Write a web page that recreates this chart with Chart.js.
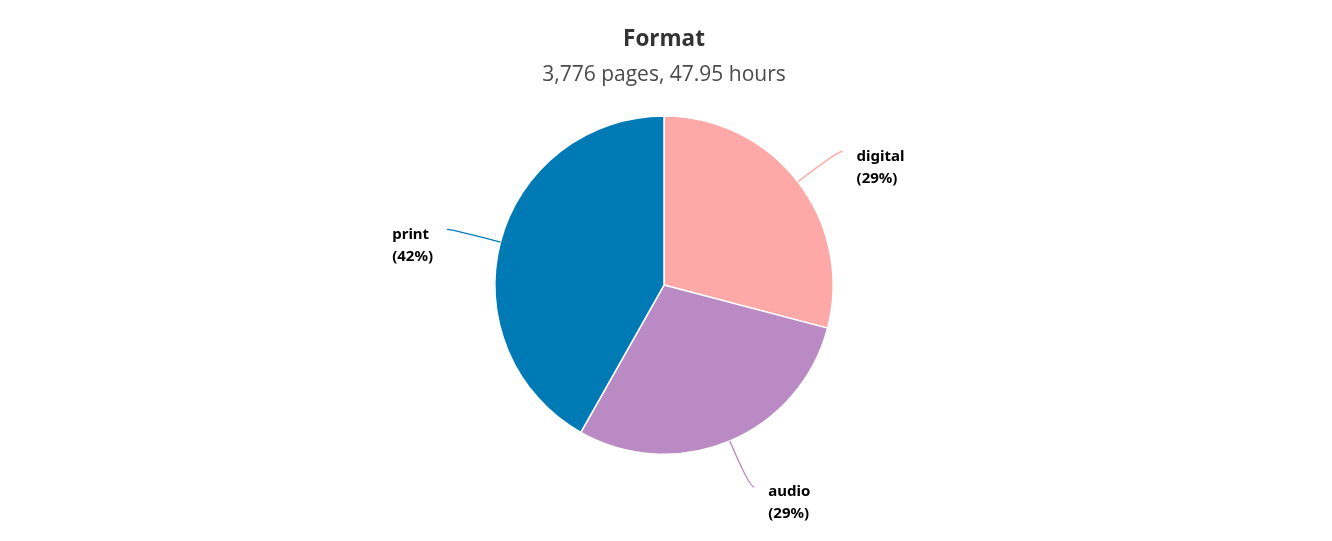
<!DOCTYPE html>
<html>
<head>
<meta charset="utf-8">
<script src="https://cdn.jsdelivr.net/npm/chart.js@4.4.0/dist/chart.umd.min.js"></script>
<style>
  html, body { margin: 0; padding: 0; background: #fff; }
  #wrap { width: 1332px; height: 541px; }
</style>
</head>
<body>
<div id="wrap"><canvas id="pie"></canvas></div>
<script>
// ── Chart data ──
const formats = ['digital', 'audio', 'print'];
const hours = [13.95, 13.95, 20.05];
const COLORS = ['#ffa8a8', '#b98ac3', '#007ab5'];
const titleText = 'Format';
const subtitleText = '3,776 pages, 47.95 hours';

// ── Outside labels with soft connectors ──
const outsideLabels = {
  id: 'outsideLabels',
  afterDatasetsDraw(chart) {
    const ctx = chart.ctx;
    const meta = chart.getDatasetMeta(0);
    const data = chart.data.datasets[0].data;
    const total = data.reduce((s, v) => s + v, 0);
    meta.data.forEach((arc, i) => {
      const { x, y, startAngle, endAngle, outerRadius } = arc.getProps(['x', 'y', 'startAngle', 'endAngle', 'outerRadius'], true);
      const mid = (startAngle + endAngle) / 2;
      const cos = Math.cos(mid), sin = Math.sin(mid);
      const right = cos >= 0;
      const edge = { x: x + cos * outerRadius, y: y + sin * outerRadius };
      const bend = { x: x + cos * (outerRadius + 50), y: y + sin * (outerRadius + 50) };
      const end = { x: bend.x + (right ? 5 : -5), y: bend.y };

      ctx.save();
      ctx.strokeStyle = COLORS[i];
      ctx.lineWidth = 1.4;
      ctx.beginPath();
      ctx.moveTo(edge.x, edge.y);
      ctx.quadraticCurveTo(bend.x, bend.y, end.x, end.y);
      ctx.stroke();

      const pct = Math.round(data[i] / total * 100) + '%';
      const lines = [chart.data.labels[i], '(' + pct + ')'];
      ctx.font = 'bold 15px "Noto Sans"';
      ctx.fillStyle = '#000';
      ctx.textBaseline = 'middle';
      ctx.textAlign = 'left';
      const w = Math.max(...lines.map(l => ctx.measureText(l).width));
      const tx = right ? end.x + 14 : end.x - 14 - w;
      lines.forEach((l, k) => ctx.fillText(l, tx, end.y + 5 + k * 22));
      ctx.restore();
    });
  }
};

new Chart(document.getElementById('pie'), {
  type: 'pie',
  data: {
    labels: formats,
    datasets: [{
      data: hours,
      backgroundColor: COLORS,
      borderColor: '#fff',
      borderWidth: 1.5,
      hoverOffset: 0
    }]
  },
  options: {
    responsive: true,
    maintainAspectRatio: false,
    animation: false,
    layout: { padding: { top: 0, bottom: 86, left: 0, right: 4 } },
    plugins: {
      legend: { display: false },
      tooltip: { enabled: false },
      title: {
        display: true,
        text: titleText,
        color: '#333',
        font: { family: '"Open Sans"', size: 22.5, weight: 'bold' },
        padding: { top: 26, bottom: 9 }
      },
      subtitle: {
        display: true,
        text: subtitleText,
        color: '#4a4a4a',
        font: { family: '"Open Sans"', size: 21, weight: 'normal' },
        padding: { top: 0, bottom: 28 }
      }
    }
  },
  plugins: [outsideLabels]
});
</script>
</body>
</html>
